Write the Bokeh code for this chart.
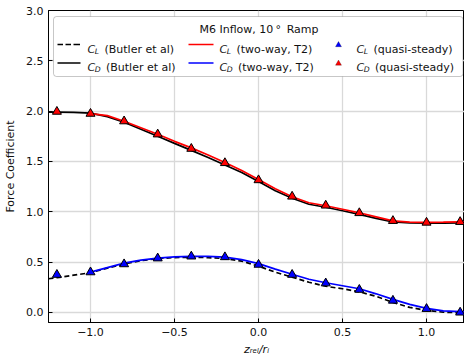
import math
from bokeh.plotting import figure
from bokeh.models import (Range1d, FixedTicker, CustomJSTickFormatter, Label,
                          BoxAnnotation, PolyAnnotation, Arrow)
from bokeh.embed import file_html
from bokeh.resources import INLINE

# ---------------- data ----------------
butler_x = [-1.25, -1.2, -1.1, -1.0, -0.9, -0.8, -0.7, -0.6, -0.5, -0.4, -0.3, -0.2, -0.1,
            0.0, 0.1, 0.2, 0.3, 0.4, 0.5, 0.6, 0.7, 0.8, 0.9, 1.0, 1.1, 1.2, 1.25]
butler_cd = [1.99, 1.99, 1.988, 1.98, 1.945, 1.89, 1.82, 1.75, 1.68, 1.61, 1.54, 1.465, 1.39,
             1.30, 1.21, 1.135, 1.075, 1.045, 1.01, 0.975, 0.935, 0.90, 0.89, 0.888, 0.888, 0.89, 0.89]
butler_cl = [0.335, 0.345, 0.37, 0.395, 0.44, 0.48, 0.515, 0.535, 0.545, 0.548, 0.545, 0.535, 0.51,
             0.46, 0.40, 0.35, 0.30, 0.26, 0.235, 0.205, 0.16, 0.10, 0.05, 0.02, 0.003, -0.003, -0.005]

t2_x = [-1.0, -0.9, -0.8, -0.7, -0.6, -0.5, -0.4, -0.3, -0.2, -0.1, 0.0, 0.1, 0.2, 0.3,
        0.4, 0.5, 0.6, 0.7, 0.8, 0.9, 1.0, 1.1, 1.2, 1.25]
t2_red = [1.975, 1.955, 1.90, 1.835, 1.77, 1.70, 1.635, 1.565, 1.49, 1.41, 1.32, 1.23, 1.15, 1.09,
          1.06, 1.025, 0.99, 0.95, 0.91, 0.898, 0.895, 0.897, 0.90, 0.90]
t2_blue = [0.40, 0.445, 0.49, 0.52, 0.54, 0.553, 0.558, 0.557, 0.55, 0.525, 0.485, 0.43, 0.38, 0.33,
           0.295, 0.265, 0.235, 0.185, 0.13, 0.08, 0.04, 0.015, 0.008, 0.005]

qs_x = [-1.2, -1.0, -0.8, -0.6, -0.4, -0.2, 0.0, 0.2, 0.4, 0.6, 0.8, 1.0, 1.2]
qs_cd = [1.995, 1.975, 1.90, 1.77, 1.627, 1.485, 1.315, 1.152, 1.063, 0.988, 0.91, 0.893, 0.90]
qs_cl = [0.375, 0.40, 0.48, 0.538, 0.557, 0.55, 0.475, 0.375, 0.29, 0.226, 0.118, 0.036, 0.0]

x_ticks = [-1.0, -0.5, 0.0, 0.5, 1.0]
y_ticks = [0.0, 0.5, 1.0, 1.5, 2.0, 2.5, 3.0]

FONT = "DejaVu Sans"
TXT = "#111111"

p = figure(width=464, height=360, output_backend="svg", toolbar_location=None,
           x_range=Range1d(-1.25, 1.226), y_range=Range1d(-0.1, 3.0),
           min_border_left=48, min_border_right=0, min_border_top=10, min_border_bottom=38)
p.background_fill_color = "white"
p.border_fill_color = "white"
p.outline_line_color = "black"
p.outline_line_width = 1

p.xaxis.ticker = FixedTicker(ticks=x_ticks)
p.yaxis.ticker = FixedTicker(ticks=y_ticks)
fmt = CustomJSTickFormatter(code="return tick.toFixed(1).replace('-', '\u2212');")
p.xaxis.formatter = fmt
p.yaxis.formatter = fmt
for ax in (p.xaxis, p.yaxis):
    ax.major_tick_in = 4
    ax.major_tick_out = 0
    ax.minor_tick_in = 0
    ax.minor_tick_out = 0
    ax.axis_line_color = "black"
    ax.major_tick_line_color = "black"
    ax.major_label_text_font = FONT
    ax.major_label_text_font_size = "11px"
    ax.major_label_text_color = TXT
    ax.major_label_standoff = 5
    ax.axis_label_text_font = FONT
    ax.axis_label_text_font_size = "11px"
    ax.axis_label_text_color = TXT
p.yaxis.axis_label = "Force Coefficient"
p.yaxis.axis_label_text_font_style = "normal"
p.yaxis.axis_label_standoff = 6
p.xaxis.axis_label = "z\u1d63\u2091\u2097/r\u1d62"
p.xaxis.axis_label_text_font_style = "italic"
p.xaxis.axis_label_standoff = 4

p.xgrid.grid_line_color = "#d9d9d9"
p.ygrid.grid_line_color = "#d9d9d9"
p.xgrid.grid_line_width = 1.3
p.ygrid.grid_line_width = 1.3

LW = 1.7
p.line(butler_x, butler_cl, line_color="black", line_width=LW, line_dash="5 3")
p.line(butler_x, butler_cd, line_color="black", line_width=LW)
p.line(t2_x, t2_red, line_color="red", line_width=LW)
p.line(t2_x, t2_blue, line_color="blue", line_width=LW)
p.scatter(qs_x, qs_cl, marker="triangle", size=9, fill_color="blue", line_color="black", line_width=1)
p.scatter(qs_x, qs_cd, marker="triangle", size=9, fill_color="red", line_color="black", line_width=1)

# ---- helpers: page pixel -> frame-relative screen units ----
FL, FB = 48, 322

def sx(px):
    return px - FL

def sy(py):
    return FB - py

def lab(px, py, text, size=11, style="normal", align="left", baseline="alphabetic", angle=0.0):
    p.add_layout(Label(x=sx(px), y=sy(py), x_units="screen", y_units="screen", text=text,
                       text_font=FONT, text_font_size=f"{size}px", text_font_style=style,
                       text_align=align, text_baseline=baseline, angle=angle, text_color=TXT))

# ---- legend ----
p.add_layout(BoxAnnotation(left=sx(53), right=sx(462.5), top=sy(16), bottom=sy(76),
                           left_units="screen", right_units="screen",
                           top_units="screen", bottom_units="screen",
                           fill_color="white", fill_alpha=1.0, line_color="#444444",
                           line_width=1, border_radius=3, level="annotation"))
lab(258.5, 29, "M6 Inflow, 10\u2009°\u2009 Ramp", align="center")

R1, R2 = 48.5, 67.0
L1, L2 = 44.0, 62.5
# col 1: Butler (dashed CL, solid CD)
for a, b in [(57, 62.5), (65, 70.5), (73, 79.5)]:
    p.add_layout(Arrow(x_start=sx(a), y_start=sy(L1), x_end=sx(b), y_end=sy(L1),
                       start_units="screen", end_units="screen", end=None,
                       line_color="black", line_width=LW))
p.add_layout(Arrow(x_start=sx(57), y_start=sy(L2), x_end=sx(80), y_end=sy(L2),
                   start_units="screen", end_units="screen", end=None,
                   line_color="black", line_width=LW))
# col 2: two-way T2
p.add_layout(Arrow(x_start=sx(188), y_start=sy(L1), x_end=sx(213), y_end=sy(L1),
                   start_units="screen", end_units="screen", end=None,
                   line_color="red", line_width=LW))
p.add_layout(Arrow(x_start=sx(188), y_start=sy(L2), x_end=sx(213), y_end=sy(L2),
                   start_units="screen", end_units="screen", end=None,
                   line_color="blue", line_width=LW))
# col 3: quasi-steady triangles
for cy, col in [(L1, "blue"), (L2, "red")]:
    cx = 338
    p.add_layout(PolyAnnotation(xs=[sx(cx - 3), sx(cx + 3), sx(cx)],
                                ys=[sy(cy + 2.2), sy(cy + 2.2), sy(cy - 3)],
                                xs_units="screen", ys_units="screen",
                                fill_color=col, fill_alpha=1.0, line_color="black", line_width=0.8))

def entry(px, py, sub, rest, sub_w):
    lab(px, py, "C", style="italic")
    lab(px + 7.3, py + 2, sub, size=7.7, style="italic")
    lab(px + sub_w, py, rest)

entry(87, R1, "L", "(Butler et al)", 17)
entry(87, R2, "D", "(Butler et al)", 18.5)
entry(219, R1, "L", "(two-way, T2)", 17)
entry(219, R2, "D", "(two-way, T2)", 18.5)
entry(356, R1, "L", "(quasi-steady)", 17)
entry(356, R2, "D", "(quasi-steady)", 18.5)

open("out.html", "w").write(file_html(p, INLINE))
